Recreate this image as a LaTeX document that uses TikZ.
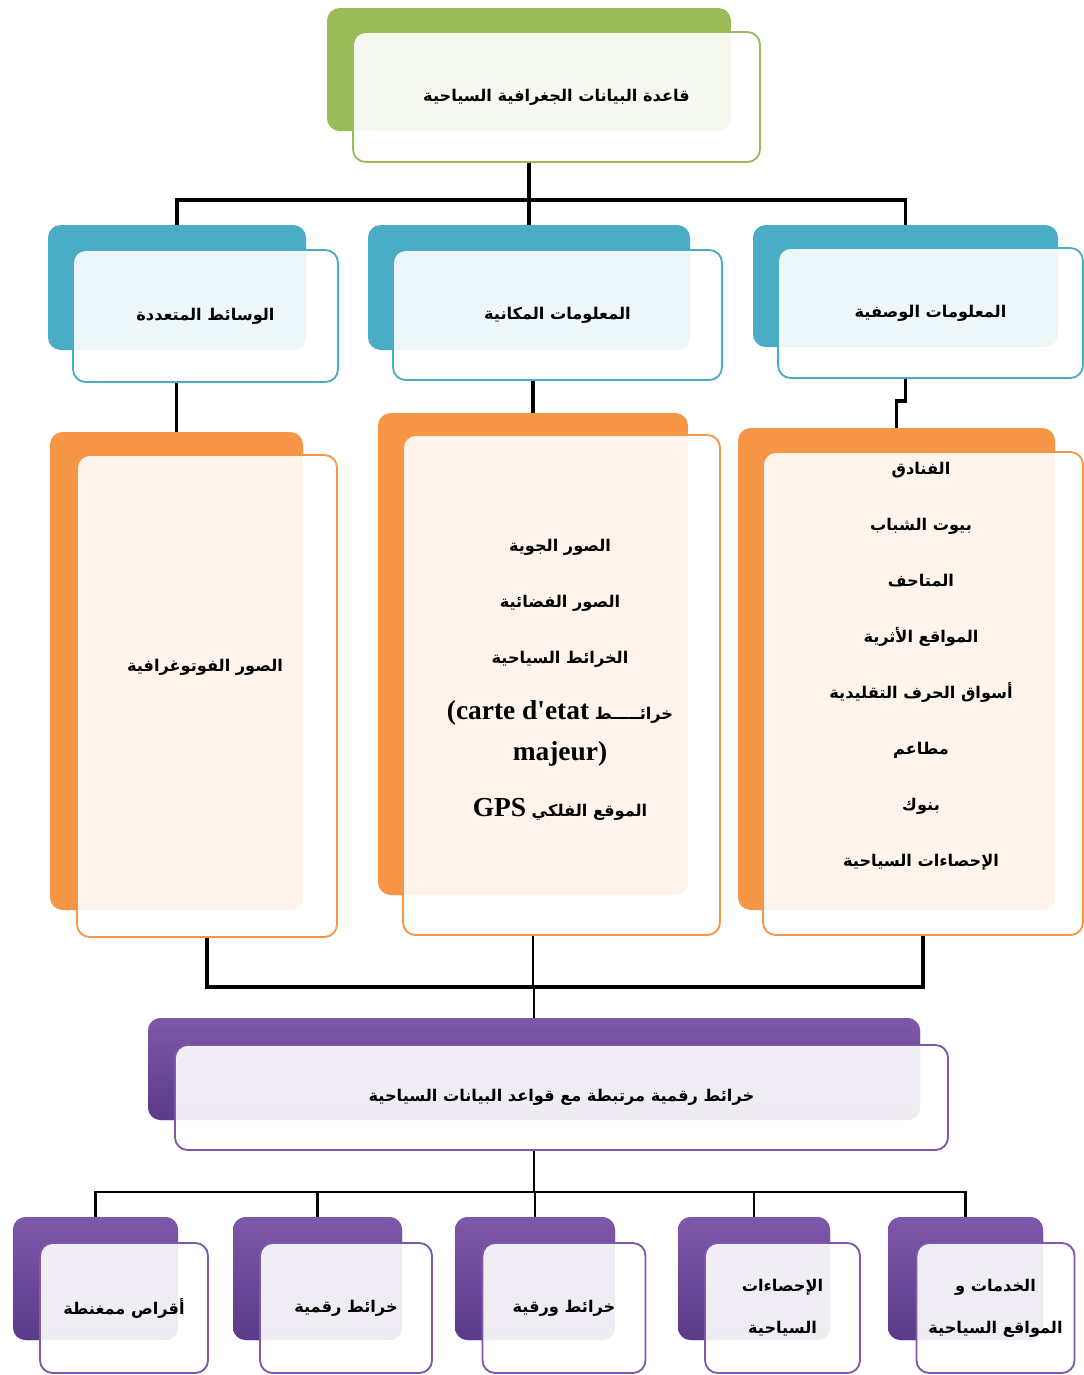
\documentclass[tikz,border=0pt]{standalone}
\usepackage{fontspec}
\setmainfont{Liberation Serif}
\newfontfamily\arabicfont[Script=Arabic]{DejaVu Sans}
\newfontfamily\latinfont[Ligatures=TeXOff]{Liberation Serif}
\TeXXeTstate=1

\definecolor{olgreen}{HTML}{9BBB59}
\definecolor{olblue}{HTML}{4BACC6}
\definecolor{olorange}{HTML}{F79646}
\definecolor{olpurple}{HTML}{7E58AA}
\definecolor{olpurpledk}{HTML}{5A3A8A}

\newcommand{\artxt}[1]{\beginR #1\endR}
\newcommand{\lattxt}[1]{\beginL{\latinfont\bfseries\fontsize{19.5}{22}\selectfont #1}\endL}

\tikzset{
  sz/.style 2 args={minimum width={(#1)*0.025cm}, minimum height={(#2)*0.025cm}},
  backbox/.style={draw=none, fill=#1, rounded corners=9pt, inner sep=0pt},
  purpleback/.style={backbox=olpurple, top color=olpurple, bottom color=olpurpledk},
  frontbox/.style={draw=#1, line width=1.3pt, fill=white, fill opacity=0.9, text opacity=1,
    rounded corners=9pt, inner sep=0pt, align=center,
    font=\arabicfont\bfseries\fontsize{11.5}{30}\selectfont},
  lbl/.style={align=center, font=\arabicfont\bfseries\fontsize{11.5}{39.8}\selectfont},
  bus/.style={line width=2.8pt},
  thinbus/.style={line width=1.5pt}
}

\begin{document}
\begin{tikzpicture}[x=0.025cm, y=-0.025cm]
\useasboundingbox (0,0) rectangle (1084,1375);

% root
\node[backbox=olgreen, sz={404}{123}] (topb) at (529,69.5) {};
\node[frontbox=olgreen, sz={407}{130}] (top) at (556.5,97) {\artxt{قاعدة البيانات الجغرافية السياحية}};

% second row
\node[backbox=olblue, sz={258}{125}] (blLb) at (177,287.5) {};
\node[frontbox=olblue, sz={265}{132}] (blL) at (205.5,316) {\artxt{الوسائط المتعددة}};
\node[backbox=olblue, sz={322}{125}] (blMb) at (529,287.5) {};
\node[frontbox=olblue, sz={329}{130}] (blM) at (557.5,315) {\artxt{المعلومات المكانية}};
\node[backbox=olblue, sz={305}{122}] (blRb) at (905.5,286) {};
\node[frontbox=olblue, sz={305}{130}] (blR) at (930.5,313) {\artxt{المعلومات الوصفية}};

% third row
\node[backbox=olorange, sz={253}{478}] (orLb) at (176.5,671) {};
\node[frontbox=olorange, sz={260}{482}] (orL) at (207,696) {};
\node[backbox=olorange, sz={310}{482}] (orMb) at (533,654) {};
\node[frontbox=olorange, sz={317}{500}] (orM) at (561.5,685) {};
\node[backbox=olorange, sz={317}{482}] (orRb) at (896.5,669) {};
\node[frontbox=olorange, sz={320}{483}] (orR) at (923,693.5) {};

\node[lbl] (orLTxt) at (205,667) {\artxt{الصور الفوتوغرافية}};
\node[lbl] (orMTxt) at (560,680) {\artxt{الصور الجوية}\\ \artxt{الصور الفضائية}\\
  \artxt{الخرائط السياحية}\\ \artxt{خرائـــــط \lattxt{(carte d'etat}}\\[-10.8pt]
  \lattxt{majeur)}\\ \artxt{الموقع الفلكي \lattxt{GPS}}};
\node[lbl] (orRTxt) at (921,666) {\artxt{الفنادق}\\ \artxt{بيوت الشباب}\\ \artxt{المتاحف}\\
  \artxt{المواقع الأثرية}\\ \artxt{أسواق الحرف التقليدية}\\ \artxt{مطاعم}\\ \artxt{بنوك}\\
  \artxt{الإحصاءات السياحية}};

% digital maps
\node[purpleback, sz={772}{102}] (pub) at (534,1069) {};
\node[frontbox=olpurple, sz={773}{105}] (pu) at (561.5,1097.5) {\artxt{خرائط رقمية مرتبطة مع قواعد البيانات السياحية}};

% outputs
\foreach \bx/\fx/\w/\t [count=\i] in {95.5/124/165/{\artxt{أقراص ممغنطة}},
    317.5/346/169/{\artxt{خرائط رقمية}},
    535/564/160/{\artxt{خرائط ورقية}},
    754/782.5/152/{\artxt{الإحصاءات}\\\artxt{السياحية}},
    965.5/995.5/155/{\artxt{الخدمات و}\\\artxt{المواقع السياحية}}}{
  \node[purpleback, sz={\w}{123}] (bb\i) at (\bx,1278.5) {};
  \node[frontbox=olpurple, sz={\w+3}{130}] (bf\i) at (\fx,1308) {\t};
}

% connectors
\coordinate (busA) at (529,200);
\draw[bus] (topb.south |- top.south) -- (busA);
\draw[bus] (blLb.north) -- (blLb.north |- busA) -- (blRb.north |- busA) -- (blRb.north);
\draw[bus] (busA) -- (blMb.north);

\draw[bus] (orLb.north |- blL.south) -- (orLb.north);
\draw[bus] (orMb.north |- blM.south) -- (orMb.north);
\draw[bus] (blRb.south |- blR.south) -- ++(0,22) -| (orRb.north);

\coordinate (busB) at (535,987);
\draw[bus] (orL.south) -- (orL.south |- busB) -- (orR.south |- busB) -- (orR.south);
\draw[thinbus] (orMb.south |- orM.south) -- (orMb.south |- busB);
\draw[thinbus] (pub.north |- busB) -- (pub.north);

\coordinate (busC) at (535,1192);
\draw[thinbus] (pub.south |- pu.south) -- (pub.south |- busC);
\draw[thinbus] (bb1.north) -- (bb1.north |- busC) -- (bb5.north |- busC) -- (bb5.north);
\foreach \i in {2,3,4}{
  \draw[thinbus] (bb\i.north |- busC) -- (bb\i.north);
}
\end{tikzpicture}
\end{document}
